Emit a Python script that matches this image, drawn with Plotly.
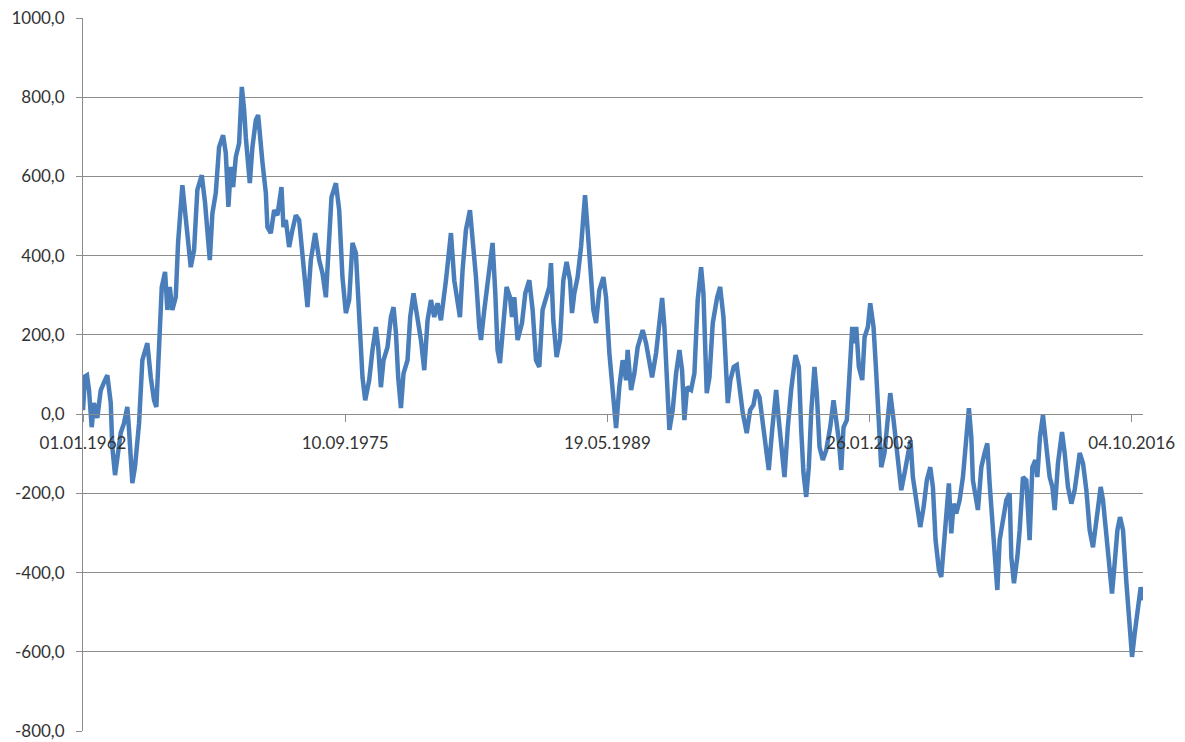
import pandas as pd
import plotly.graph_objects as go

# Daily series: day index counted from the first observation, and the value
START_DATE = pd.Timestamp("1962-01-01")

day_index = [
    0, 38, 76, 115, 166, 210, 273, 338, 401, 464, 529, 559, 611, 655, 719, 782,
    845, 878, 941, 992, 1069, 1132, 1227, 1292, 1355, 1399, 1431, 1450, 1502,
    1565, 1609, 1655, 1704, 1769, 1813, 1895, 1960, 2055, 2118, 2181, 2265,
    2328, 2418, 2468, 2532, 2595, 2672, 2723, 2773, 2819, 2863, 2914, 2977,
    3029, 3073, 3105, 3181, 3231, 3296, 3340, 3422, 3487, 3517, 3582, 3645,
    3708, 3785, 3823, 3868, 3931, 3994, 4059, 4122, 4185, 4218, 4281, 4345,
    4427, 4504, 4567, 4632, 4676, 4739, 4823, 4886, 4948, 5013, 5076, 5139,
    5204, 5235, 5286, 5330, 5382, 5458, 5521, 5586, 5630, 5681, 5731, 5807,
    5872, 5922, 5968, 6011, 6063, 6113, 6189, 6240, 6303, 6380, 6445, 6508,
    6571, 6636, 6698, 6762, 6826, 6922, 7017, 7080, 7143, 7189, 7239, 7303,
    7380, 7429, 7494, 7557, 7590, 7653, 7716, 7761, 7811, 7863, 7906, 7952,
    8015, 8078, 8143, 8181, 8225, 8288, 8372, 8435, 8511, 8575, 8639, 8702,
    8765, 8842, 8893, 8925, 8969, 9032, 9097, 9160, 9223, 9288, 9326, 9370,
    9433, 9498, 9542, 9574, 9624, 9689, 9733, 9784, 9847, 9924, 9975, 10038,
    10101, 10166, 10229, 10292, 10357, 10387, 10452, 10515, 10578, 10674,
    10738, 10801, 10853, 10929, 10992, 11044, 11088, 11132, 11183, 11246,
    11311, 11374, 11425, 11469, 11521, 11597, 11660, 11723, 11788, 11832,
    11895, 11947, 12010, 12094, 12151, 12214, 12252, 12296, 12347, 12410,
    12468, 12519, 12582, 12658, 12723, 12786, 12838, 12901, 12952, 13015,
    13078, 13143, 13219, 13269, 13334, 13378, 13441, 13505, 13588, 13651,
    13697, 13740, 13792, 13842, 13887, 13950, 13994, 14046, 14109, 14174,
    14250, 14313, 14364, 14414, 14460, 14504, 14567, 14618, 14670, 14714,
    14746, 14796, 14861, 14905, 14968, 15013, 15076, 15128, 15177, 15223,
    15285, 15349, 15395, 15458, 15521, 15605, 15668, 15731, 15782, 15826,
    15903, 15967, 16031, 16093, 16158, 16208, 16259, 16323, 16368, 16418,
    16483, 16513, 16559, 16603, 16654, 16718, 16781, 16832, 16895, 16941,
    16971, 17067, 17132, 17195, 17246, 17290, 17353, 17399, 17437, 17481,
    17544, 17609, 17672, 17704, 17754, 17819, 17863, 17926, 17990, 18053,
    18105, 18162, 18200, 18250, 18307, 18372, 18435, 18487, 18531, 18594,
    18670, 18721, 18784, 18849, 18912, 19008, 19071, 19135, 19198, 19261,
    19326, 19408, 19452, 19517, 19580, 19624, 19675, 19727, 19777, 19834,
    19899, 19962, 20006, 20057, 20120, 20171, 20215,
]

values = [
    10, 95, 98, 60, -33, 28, -10, 60, 80, 98, 28, -83, -154, -108, -48, -23,
    18, -40, -174, -133, -23, 136, 179, 93, 35, 18, 111, 205, 321,
    359, 263, 321, 263, 295, 432, 578, 482, 371, 414, 566, 603,
    533, 389, 507, 558, 674, 704, 659, 523, 624, 573, 649, 684,
    826, 768, 699, 583, 674, 742, 755, 636, 558, 472, 457, 515,
    502, 573, 472, 490, 422, 465, 502, 490, 406, 338, 270, 389,
    457, 389, 356, 295, 406, 548, 583, 515, 346, 255, 288, 432,
    406, 331, 194, 93, 35, 86, 162, 220, 169, 68, 136, 169,
    245, 270, 205, 93, 15, 103, 136, 245, 305, 245, 187, 111,
    237, 288, 245, 280, 237, 338, 457, 338, 280, 245, 364, 465,
    515, 447, 346, 220, 187, 263, 331, 364, 432, 305, 162, 129,
    220, 321, 295, 245, 295, 187, 230, 305, 338, 263, 136, 119,
    263, 295, 321, 381, 237, 144, 187, 338, 384, 338, 255, 305,
    346, 422, 497, 553, 465, 346, 263, 230, 313, 346, 295, 154,
    43, -35, 70, 136, 86, 162, 61, 103, 169, 212,
    179, 136, 93, 154, 245, 293, 220, 86, -40, 10,
    103, 162, 111, -15, 68, 61, 103, 288, 371, 305,
    53, 93, 230, 295, 321, 245, 144, 28, 86, 119,
    124, 61, 3, -48, 10, 23, 61, 43, -15, -83,
    -141, -40, 61, -15, -98, -159, -33, 61, 149, 119,
    -40, -149, -209, -134, 3, 119, 53, -83, -116, -91,
    -33, 35, -15, -66, -141, -33, -15, 103, 220, 179,
    220, 119, 86, 194, 220, 280, 220, 103, -15, -134,
    -98, 10, 53, -15, -83, -192, -149, -108, -66, -159,
    -235, -285, -235, -167, -134, -184, -318, -394, -411, -336,
    -209, -175, -301, -226, -251, -217, -159, -74, 15, -58,
    -167, -242, -134, -98, -74, -175, -293, -386, -444, -318,
    -260, -217, -200, -361, -427, -361, -293, -159, -167, -318,
    -134, -116, -159, -58, -3, -83, -159, -184, -242, -124,
    -45, -98, -184, -226, -192, -98, -124, -192, -293, -336,
    -260, -184, -217, -318, -411, -453, -376, -293, -260, -293,
    -427, -528, -613, -553, -495, -437, -470,
]

# Category axis: a date label every 5000 days
tick_days = [0, 5000, 10000, 15000, 20000]
tick_dates = [(START_DATE + pd.Timedelta(days=d)).strftime("%d.%m.%Y") for d in tick_days]

y_ticks = list(range(-800, 1001, 200))
y_labels = [f"{v:.1f}".replace(".", ",") for v in y_ticks]

Y_MIN, Y_MAX = -800, 1000
LINE_BLUE = "#4a7ebb"
GRID_GREY = "#8c8c8c"
TEXT_GREY = "#333333"
FONT = "Lato, 'Open Sans', sans-serif"
FONT_SIZE = 17

fig = go.Figure()
fig.add_trace(
    go.Scatter(
        x=day_index,
        y=values,
        mode="lines",
        line=dict(color=LINE_BLUE, width=4.5),
        hoverinfo="skip",
        showlegend=False,
    )
)

fig.update_layout(
    width=1185,
    height=742,
    margin=dict(l=83, r=42, t=18, b=11),
    paper_bgcolor="white",
    plot_bgcolor="white",
    font=dict(family=FONT, size=FONT_SIZE, color=TEXT_GREY),
    xaxis=dict(
        range=[0, 20215],
        anchor="free",
        position=(0 - Y_MIN) / (Y_MAX - Y_MIN),  # axis line sits on value 0
        automargin=False,
        showgrid=False,
        zeroline=False,
        showline=True,
        linecolor=GRID_GREY,
        linewidth=1,
        ticks="outside",
        ticklen=7,
        tickcolor=GRID_GREY,
        tickvals=tick_days,
        ticktext=tick_dates,
        ticklabelstandoff=6,
        tickfont=dict(family=FONT, size=FONT_SIZE, color=TEXT_GREY),
    ),
    yaxis=dict(
        range=[Y_MIN, Y_MAX],
        automargin=False,
        showgrid=True,
        gridcolor=GRID_GREY,
        gridwidth=1,
        zeroline=False,
        showline=True,
        linecolor=GRID_GREY,
        linewidth=1,
        ticks="outside",
        ticklen=6,
        tickcolor=GRID_GREY,
        tickvals=y_ticks,
        ticktext=y_labels,
        ticklabelstandoff=8,
        tickfont=dict(family=FONT, size=FONT_SIZE, color=TEXT_GREY),
    ),
)

fig.write_html("out.html")
